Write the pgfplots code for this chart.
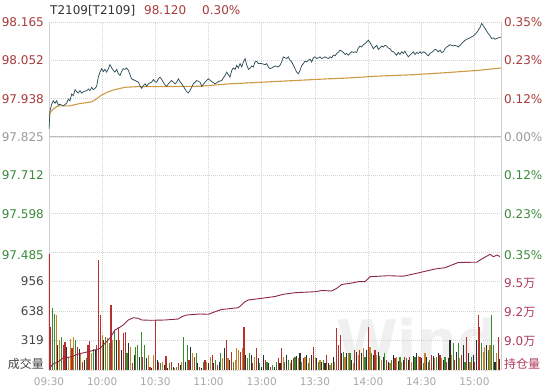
\documentclass[border=0pt]{standalone}
\usepackage{pgfplots}
\usepackage{pgfplotstable}
\pgfplotsset{compat=1.18}
\usepackage{fontspec}
\setmainfont{DejaVu Sans}
\newfontfamily\cjk{Noto Sans CJK SC}
\definecolor{pricec}{HTML}{2F4E5A}
\definecolor{avgc}{HTML}{D09A45}
\definecolor{oic}{HTML}{8E2648}
\definecolor{labred}{HTML}{A83A3A}
\definecolor{labgreen}{HTML}{3A8A3A}
\definecolor{labgray}{HTML}{9A9A9A}
\definecolor{labdark}{HTML}{444444}
\definecolor{laboi}{HTML}{B03A5A}
\definecolor{timec}{HTML}{A8A8A8}
\definecolor{gridc}{HTML}{D2D2D2}
\definecolor{borderc}{HTML}{CFCFCF}
\definecolor{zeroc}{HTML}{BDBDBD}
\definecolor{barR}{HTML}{B8302E}
\definecolor{barG}{HTML}{3A8A32}
\definecolor{barO}{HTML}{C4842E}
\definecolor{barD}{HTML}{2E2E2E}

\pgfplotstableread{
m p
0 97.849
0.6 97.903
1.5 97.922
2.4 97.932
3.4 97.925
4.3 97.932
5.3 97.919
6.2 97.922
8.1 97.917
10.0 97.925
10.9 97.937
11.8 97.932
12.8 97.952
13.7 97.947
14.7 97.965
15.6 97.959
16.5 97.955
17.5 97.962
18.4 97.955
19.4 97.959
21.3 97.962
22.2 97.967
23.1 97.962
24.1 97.972
25.0 97.965
26.0 97.969
26.9 97.975
27.8 98.002
28.8 98.017
29.7 98.027
30.7 98.019
31.6 98.025
32.5 98.017
33.5 98.027
34.4 98.039
35.4 98.029
36.3 98.022
37.2 98.017
38.2 98.025
39.1 98.012
40.1 98.007
41.0 98.019
41.9 98.027
42.9 98.025
43.8 98.029
44.8 98.022
45.7 98.009
46.6 97.997
48.5 97.992
50.4 97.987
51.3 97.977
52.3 97.969
53.2 97.977
54.2 97.982
55.1 97.975
56.0 97.982
57.9 97.987
58.9 97.995
59.8 97.989
60.7 97.987
61.7 97.997
62.6 98.002
63.6 97.995
64.5 97.987
65.4 97.979
66.4 97.975
67.3 97.982
69.2 97.992
70.1 97.987
71.1 97.982
72.0 97.987
73.0 97.997
73.9 97.989
74.8 97.982
75.8 97.975
76.7 97.967
77.7 97.959
78.6 97.955
79.5 97.962
80.5 97.972
81.4 97.982
82.4 97.987
83.3 97.992
85.2 97.987
86.2 97.975
88.0 97.987
89.9 97.997
91.8 97.989
93.7 97.982
95.6 97.989
97.4 97.992
99.3 98.007
100.3 98.017
101.2 98.009
102.1 98.002
103.1 98.022
104.0 98.029
105.0 98.025
105.9 98.037
106.8 98.029
107.8 98.042
108.7 98.032
109.7 98.047
110.6 98.057
111.5 98.039
112.5 98.025
113.4 98.029
114.4 98.035
115.3 98.032
116.2 98.047
117.2 98.049
118.1 98.042
120.0 98.042
121.9 98.039
122.8 98.042
123.8 98.032
124.7 98.027
125.6 98.029
126.6 98.032
127.5 98.035
129.4 98.032
130.3 98.037
131.3 98.047
132.2 98.062
133.2 98.059
134.1 98.057
135.0 98.062
136.0 98.052
136.9 98.047
137.9 98.037
138.8 98.027
139.7 98.017
140.7 98.012
141.6 98.022
142.6 98.037
143.5 98.042
144.4 98.049
145.4 98.047
146.3 98.052
147.3 98.055
148.2 98.047
149.1 98.059
150.1 98.062
151.0 98.057
152.0 98.059
152.9 98.062
153.8 98.057
154.8 98.059
155.7 98.062
156.7 98.059
157.6 98.057
158.5 98.062
159.5 98.059
160.4 98.067
161.4 98.065
162.3 98.072
163.2 98.075
164.2 98.082
165.1 98.079
166.1 98.075
167.0 98.069
167.9 98.072
168.9 98.067
169.8 98.072
170.8 98.077
171.7 98.075
172.6 98.077
173.6 98.075
174.5 98.088
175.5 98.094
176.4 98.091
177.3 98.098
178.3 98.101
179.2 98.106
180.2 98.111
181.1 98.104
182.0 98.096
183.0 98.086
183.9 98.091
184.9 98.096
185.8 98.084
186.7 98.088
187.7 98.094
188.6 98.091
189.6 98.096
190.5 98.094
191.4 98.088
192.4 98.086
193.3 98.079
194.3 98.077
195.2 98.072
196.1 98.067
197.1 98.075
198.0 98.069
199.0 98.077
199.9 98.072
200.8 98.079
201.8 98.069
202.7 98.062
203.7 98.067
204.6 98.072
205.5 98.077
206.5 98.069
207.4 98.075
208.4 98.072
209.3 98.077
210.2 98.072
211.2 98.077
212.1 98.075
213.1 98.069
214.0 98.065
214.9 98.072
215.9 98.075
216.8 98.079
217.8 98.084
218.7 98.082
219.6 98.077
220.6 98.082
221.5 98.075
222.5 98.077
223.4 98.086
224.3 98.091
225.3 98.094
226.2 98.098
227.2 98.096
228.1 98.094
229.0 98.096
230.0 98.094
230.9 98.091
231.9 98.096
232.8 98.101
233.7 98.106
234.7 98.111
235.6 98.114
236.6 98.116
237.5 98.118
238.4 98.121
239.4 98.124
240.3 98.128
241.3 98.134
242.2 98.141
243.1 98.148
244.1 98.161
245.0 98.154
246.0 98.146
246.9 98.138
247.8 98.131
248.8 98.124
249.7 98.116
250.7 98.118
251.6 98.114
252.5 98.116
253.5 98.118
254.4 98.120
255 98.120
}\pricetable

\pgfplotstableread{
m a
0 97.882
0.6 97.897
2.4 97.908
5.2 97.917
11.8 97.917
16.5 97.923
24.1 97.929
26.0 97.935
29.7 97.949
33.5 97.959
37.2 97.965
42.9 97.972
50.4 97.974
63.6 97.974
85.2 97.975
101.2 97.982
120.2 97.987
138.8 97.992
157.4 97.997
167.0 97.999
185.6 98.005
204.8 98.009
223.4 98.015
242.0 98.022
255 98.029
}\avgtable

\pgfplotstableread{
m oi
0 87550
0.2 87647
2.3 88017
5.2 88216
8.1 88535
12.8 88647
16.5 88879
22.2 89078
25.9 89224
28.8 89371
31.6 89802
34.4 90259
37.2 90948
39.1 91095
41.9 91379
44.7 91810
47.6 92008
50.4 91957
52.3 91810
57.9 91784
65.4 91810
72.9 91896
74.9 92095
77.7 92241
85.2 92327
89.9 92302
93.7 92526
97.4 92715
106.8 92870
110.6 93388
112.4 93534
120.0 93681
127.5 93836
132.2 94026
138.8 94163
150.1 94250
153.9 94353
159.5 94310
162.3 94543
165.1 94870
169.8 94974
174.5 95112
178.3 95112
181.1 95543
191.4 95629
199.9 95586
207.4 95836
217.8 96206
223.4 96318
230.9 96767
241.3 96793
243.2 96982
248.8 97474
250.7 97267
252.6 97413
254.4 97284
}\oitable

\pgfplotstableread{
m v c
0 1250 0
1 470 0
2 670 1
3 610 1
4 590 2
5 270 3
6 320 2
7 360 1
8 270 0
9 300 0
10 250 3
11 145 2
12 340 2
13 235 0
14 360 2
15 320 1
16 250 0
17 230 3
18 180 2
19 90 0
20 110 3
21 125 1
22 270 0
23 310 0
24 180 2
25 230 1
26 220 3
27 270 0
28 1190 0
29 594 0
30 378 2
31 324 3
32 360 1
33 342 2
34 288 1
35 702 0
36 324 2
37 432 1
38 324 3
39 468 0
40 324 2
41 216 3
42 396 0
43 414 0
44 180 1
45 288 3
46 252 2
47 72 0
48 162 3
49 252 1
50 270 1
51 144 3
52 414 1
53 144 0
54 270 1
55 126 3
56 162 2
57 36 0
58 18 3
59 162 2
60 540 0
61 108 3
62 90 0
63 72 1
64 90 2
65 54 3
66 151 0
67 18 3
68 72 1
69 90 0
70 36 3
71 18 2
72 36 1
73 72 0
74 54 3
75 90 2
76 360 1
77 90 3
78 270 1
79 108 0
80 252 3
81 180 2
82 144 0
83 180 1
84 79 3
85 36 0
86 18 3
87 90 1
88 108 0
89 90 2
90 72 3
91 144 2
92 162 0
93 72 3
94 108 1
95 54 0
96 90 3
97 180 1
98 126 2
99 234 3
100 324 0
101 126 2
102 108 3
103 198 0
104 90 1
105 108 2
106 234 2
107 216 2
108 198 0
109 234 2
110 468 0
111 162 3
112 126 1
113 180 1
114 162 3
115 72 0
116 144 2
117 234 0
118 126 3
119 72 1
120 36 3
121 162 3
122 108 0
123 90 1
124 72 3
125 36 0
126 54 1
127 36 3
128.4 90 1
129.4 126 0
130.3 72 3
131.3 234 0
132.2 144 2
133.1 90 1
134.1 162 3
135.0 108 1
136.0 72 2
136.9 108 3
137.8 126 0
138.8 144 1
139.7 151 3
140.7 126 2
141.6 180 3
142.5 90 1
143.5 126 0
144.4 144 2
145.4 162 3
146.3 72 1
147.2 126 2
148.2 162 3
149.1 252 0
150.1 144 2
151.0 126 3
151.9 90 1
152.9 108 2
153.8 90 3
154.8 108 1
155.7 72 3
156.6 162 0
157.6 72 3
158.5 54 2
159.5 72 1
160.4 144 3
161.3 90 2
162.3 450 0
163.2 270 0
164.2 378 0
165.1 180 3
166.0 198 1
167.0 144 2
167.9 180 3
168.9 187 2
169.8 180 1
170.7 108 3
171.7 72 2
172.6 216 0
173.6 198 3
174.5 162 2
175.4 216 0
176.4 180 3
177.3 234 2
178.3 144 1
179.2 216 3
180.1 468 0
181.1 252 2
182.0 180 1
183.0 162 3
183.9 216 0
184.8 162 2
185.8 198 3
186.7 151 1
187.7 108 2
188.6 144 3
189.5 180 1
190.5 108 0
191.4 90 3
192.4 72 2
193.3 108 1
194.2 162 3
195.2 126 0
196.1 144 2
197.1 101 3
198.0 144 1
199.0 90 2
199.9 108 3
200.8 144 0
201.8 126 1
202.7 108 3
203.6 144 0
204.6 90 2
205.5 151 3
206.5 144 1
207.4 180 3
208.3 151 2
209.3 144 0
210.2 126 3
211.2 72 1
212.1 180 2
213.1 144 3
214.0 90 0
214.9 108 1
215.9 162 0
216.8 151 3
217.7 126 2
218.7 144 1
219.6 180 3
220.6 162 0
221.5 126 2
222.4 108 3
223.4 144 1
224.3 90 0
225.3 126 3
226.2 324 3
227.1 162 2
228.1 288 1
229.0 108 0
230.0 198 3
230.9 288 1
231.8 126 2
232.8 162 0
233.7 270 3
234.7 90 1
235.6 360 0
236.5 180 3
237.5 90 2
238.4 144 1
239.4 162 3
240.3 90 0
241.2 324 3
242.2 594 0
243.1 468 0
244.1 288 1
245.0 198 2
245.9 252 2
246.9 270 3
247.8 216 1
248.8 270 2
249.7 594 1
250.7 270 1
251.6 90 3
252.6 180 2
253.5 360 0
254.4 120 3
}\voltable

\pgfplotsset{
  panel/.style={
    scale only axis, width=452pt, xmin=0, xmax=255,
    separate axis lines,
    x axis line style={draw=none},
    y axis line style={draw=borderc, line width=0.7pt},
    major tick length=0pt, minor tick length=0pt, tick style={draw=none},
    grid style={draw=gridc, dash pattern=on 1pt off 1pt, line width=0.6pt},
    xmajorgrids, ymajorgrids,
    tick label style={font=\fontsize{12}{14}\selectfont},
    yticklabel style={anchor=east, inner sep=0pt, xshift=-5pt},
    scaled y ticks=false,
  },
  rlabels/.style={
    scale only axis, width=452pt, xmin=0, xmax=255,
    axis line style={draw=none}, xtick=\empty,
    major tick length=0pt, tick style={draw=none},
    yticklabel pos=right,
    tick label style={font=\fontsize{12}{14}\selectfont},
    yticklabel style={anchor=west, inner sep=0pt, xshift=3pt},
    scaled y ticks=false,
  },
}

\begin{document}
\begin{tikzpicture}[x=1pt,y=1pt]
\path[use as bounding box] (0,0) rectangle (549,391);
% watermark (faint logo text behind the volume bars)
\node[anchor=base west, inner sep=0pt, text=black!6, font=\fontsize{56}{56}\selectfont\bfseries] at (336,30) {Wind};
% header
\node[anchor=base west, inner sep=0pt, font=\fontsize{12}{14}\selectfont, text=black!80] at (50,376.5) {T2109[T2109]};
\node[anchor=base west, inner sep=0pt, font=\fontsize{12}{14}\selectfont, text=labred] at (144,376.5) {98.120};
\node[anchor=base west, inner sep=0pt, font=\fontsize{12}{14}\selectfont, text=labred] at (202,376.5) {0.30\%};

% price panel
\begin{axis}[panel, at={(49pt,139pt)}, anchor=south west, height=230pt,
  ymin=97.485, ymax=98.165,
  xtick={30,60,...,240}, xticklabels={},
  ytick={97.59833,97.71167,97.825,97.93833,98.05167,98.165},
  yticklabels={\textcolor{labgreen}{97.598},\textcolor{labgreen}{97.712},\textcolor{labgray}{97.825},\textcolor{labred}{97.938},\textcolor{labred}{98.052},\textcolor{labred}{98.165}},
  extra y ticks={97.485}, extra y tick labels={\textcolor{labgreen}{97.485}},
  extra y tick style={grid=major, yticklabel style={yshift=-3.5pt}},
]
\addplot[draw=zeroc, line width=1pt, forget plot] coordinates {(0,97.825) (255,97.825)};
\addplot[draw=avgc, line width=1.1pt, mark=none] table[x=m, y=a] {\avgtable};
\addplot[draw=pricec, line width=0.75pt, mark=none] table[x=m, y=p] {\pricetable};
\end{axis}

% price panel right labels
\begin{axis}[rlabels, at={(49pt,139pt)}, anchor=south west, height=230pt,
  ymin=97.485, ymax=98.165,
  ytick={97.59833,97.71167,97.825,97.93833,98.05167,98.165},
  yticklabels={\textcolor{labgreen}{0.23\%},\textcolor{labgreen}{0.12\%},\textcolor{labgray}{0.00\%},\textcolor{labred}{0.12\%},\textcolor{labred}{0.23\%},\textcolor{labred}{0.35\%}},
  extra y ticks={97.485}, extra y tick labels={\textcolor{labgreen}{0.35\%}},
  extra y tick style={yticklabel style={yshift=-3.5pt}},
]
\addplot[draw=none, forget plot] coordinates {(0,97.825)};
\end{axis}

% volume panel
\begin{axis}[panel, at={(49pt,21pt)}, anchor=south west, height=118pt,
  ymin=0, ymax=1275,
  xtick={0,30,...,240},
  xticklabels={09:30,10:00,10:30,11:00,13:00,13:30,14:00,14:30,15:00},
  xticklabel style={font=\fontsize{10.5}{12}\selectfont, text=timec, inner sep=0pt, yshift=-8pt},
  ytick={319,638,956},
  yticklabels={\textcolor{labdark}{319},\textcolor{labdark}{638},\textcolor{labdark}{956}},
  extra y ticks={0}, extra y tick labels={\textcolor{labdark}{\cjk 成交量}},
  extra y tick style={yticklabel style={yshift=6pt}},
]
\addplot[ycomb, draw=barR, line width=1.1pt, mark=none, restrict expr to domain={\thisrow{c}}{-0.5:0.5}] table[x=m, y=v] {\voltable};
\addplot[ycomb, draw=barG, line width=1.1pt, mark=none, restrict expr to domain={\thisrow{c}}{0.5:1.5}] table[x=m, y=v] {\voltable};
\addplot[ycomb, draw=barO, line width=1.1pt, mark=none, restrict expr to domain={\thisrow{c}}{1.5:2.5}] table[x=m, y=v] {\voltable};
\addplot[ycomb, draw=barD, line width=1.1pt, mark=none, restrict expr to domain={\thisrow{c}}{2.5:3.5}] table[x=m, y=v] {\voltable};
\end{axis}

% open interest overlay
\begin{axis}[rlabels, at={(49pt,21pt)}, anchor=south west, height=118pt,
  ymin=87500, ymax=97672,
  ytick={90000,92500,95000},
  yticklabels={\textcolor{laboi}{9.0{\cjk 万}},\textcolor{laboi}{9.2{\cjk 万}},\textcolor{laboi}{9.5{\cjk 万}}},
  extra y ticks={87500}, extra y tick labels={\textcolor{laboi}{\cjk 持仓量}},
  extra y tick style={yticklabel style={yshift=6pt}},
]
\addplot[draw=oic, line width=0.9pt, mark=none] table[x=m, y=oi] {\oitable};
\end{axis}
\end{tikzpicture}
\end{document}
